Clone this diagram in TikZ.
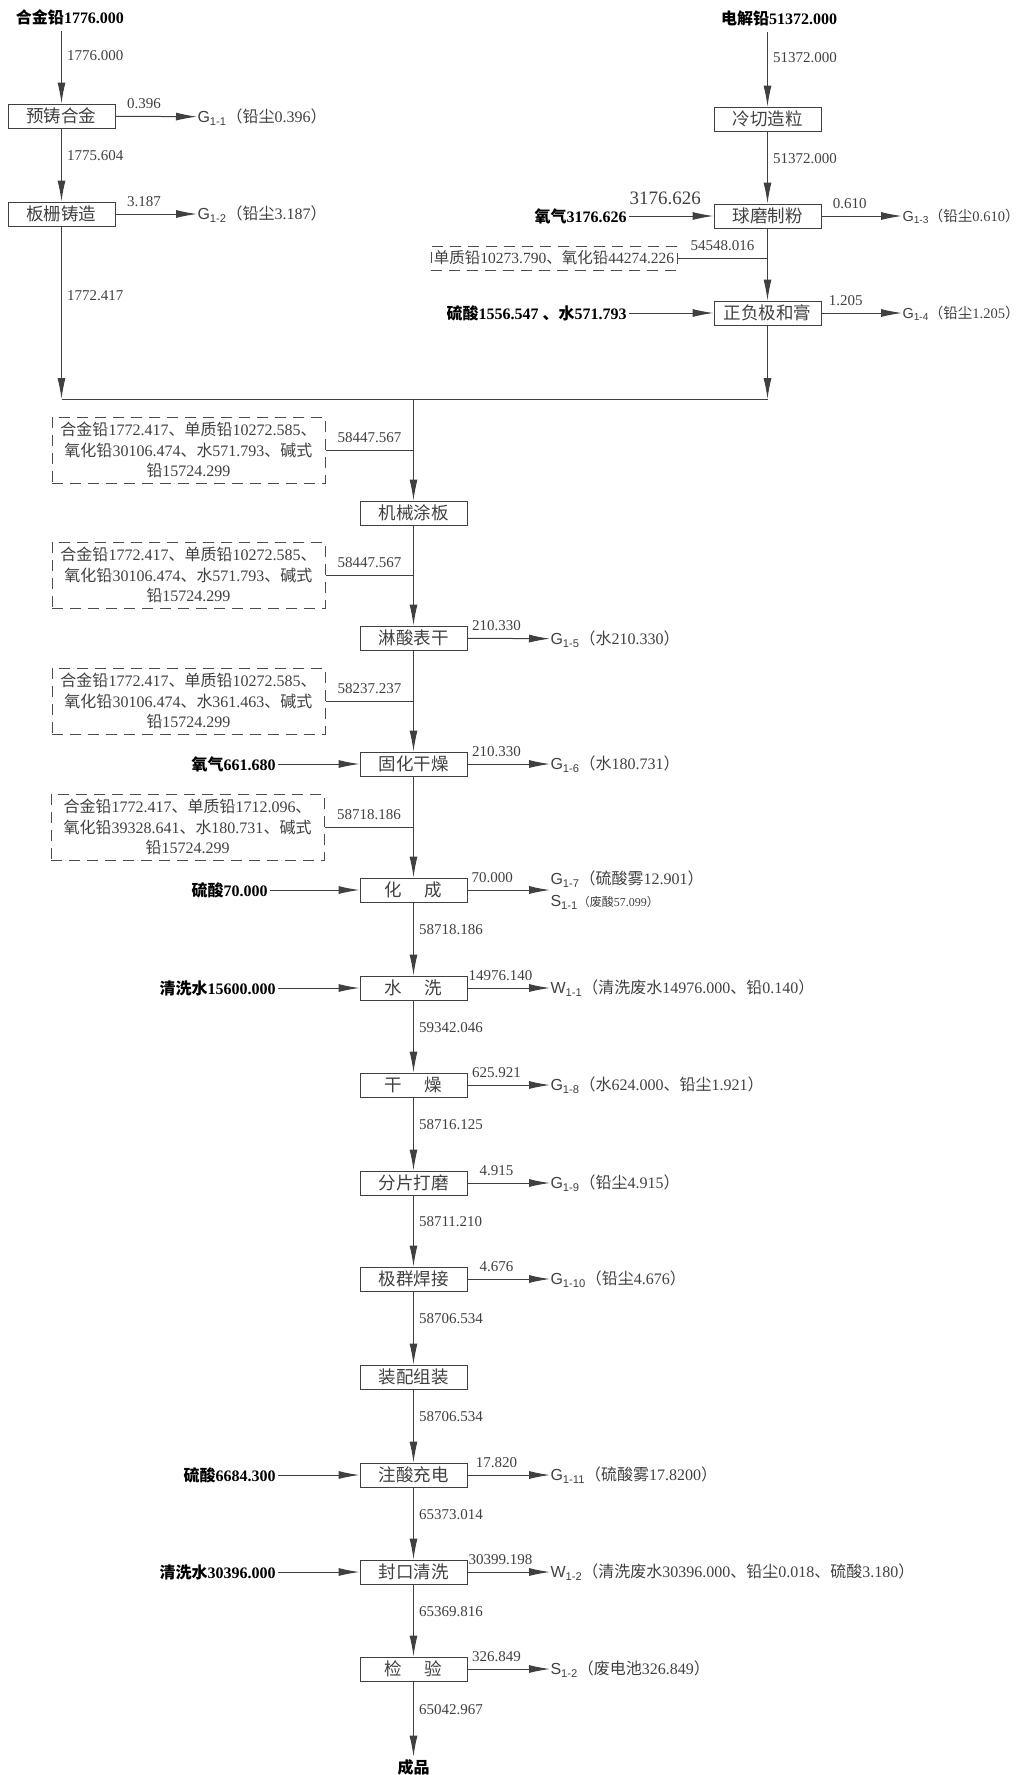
\documentclass[tikz,border=0pt]{standalone}
\usepackage{fontspec}
\setmainfont{Liberation Serif}
\newfontfamily\cjk{Noto Sans CJK SC}
\newfontfamily\arial{Liberation Sans}
\usepackage{tikz}
\usetikzlibrary{arrows.meta,positioning}
\newcommand\zh[1]{{\cjk #1}}
\tikzset{
    %Define standard arrow tip
    >={Latex[length=21pt,width=8pt]},
    %Define style for process boxes
    procbox/.style={
           rectangle,
           draw=black!75,
           minimum width=107pt,
           minimum height=24pt,
           inner sep=0pt,
           font=\cjk\fontsize{17.5}{17.5}\selectfont,
           text=black!75},
    %Define style for dashed material boxes
    matbox/.style={
           rectangle,
           draw=black!70,
           dash pattern=on 11pt off 7pt,
           text width=265pt,
           inner sep=4pt,
           minimum height=66pt,
           align=center,
           font=\fontsize{16}{20.5}\selectfont,
           text=black!75},
    matline/.style={
           rectangle,
           draw=black!70,
           dash pattern=on 11pt off 7pt,
           minimum width=246pt,
           minimum height=24pt,
           inner sep=2pt,
           font=\fontsize{15.5}{15.5}\selectfont,
           text=black!75},
    inlabel/.style={
           font=\bfseries\fontsize{16}{16}\selectfont,
           text=black,
           inner sep=2pt},
    outlabel/.style={
           font=\fontsize{16}{22}\selectfont,
           text=black!75,
           inner sep=0pt,
           anchor=west,
           align=left},
    flow/.style={
           font=\fontsize{15}{15}\selectfont,
           text=black!75,
           inner sep=2pt}
}

\begin{document}
\begin{tikzpicture}[x=1pt,y=-1pt,line width=1pt,black!75]
\useasboundingbox (0,0) rectangle (1027,1775);

 %sources
\node[inlabel] (t1) at (70,17) {\zh{合金铅}1776.000};
\node[inlabel] (t2) at (779,18) {\zh{电解铅}51372.000};

 %process boxes
\node[procbox] (p1) at (61.5,116) {预铸合金};
\node[procbox] (p2) at (61.5,214) {板栅铸造};
\node[procbox] (p3) at (767.5,119) {冷切造粒};
\node[procbox] (p4) at (767.5,216) {球磨制粉};
\node[procbox] (p5) at (767.5,313) {正负极和膏};
\node[procbox] (p6) at (413.5,513) {机械涂板};
\node[procbox] (p7) at (413.5,638) {淋酸表干};
\node[procbox] (p8) at (413.5,764) {固化干燥};
\node[procbox] (p9) at (413.5,890) {化\hspace{1.3em}成};
\node[procbox] (p10) at (413.5,988) {水\hspace{1.3em}洗};
\node[procbox] (p11) at (413.5,1085) {干\hspace{1.3em}燥};
\node[procbox] (p12) at (413.5,1183) {分片打磨};
\node[procbox] (p13) at (413.5,1279) {极群焊接};
\node[procbox] (p14) at (413.5,1377) {装配组装};
\node[procbox] (p15) at (413.5,1475) {注酸充电};
\node[procbox] (p16) at (413.5,1572) {封口清洗};
\node[procbox] (p17) at (413.5,1669) {检\hspace{1.3em}验};
\node[inlabel] (fin) at (413.5,1767) {\zh{成品}};

 %junction of both branches
\coordinate (j1) at (61.5,399);
\coordinate (j2) at (767.5,399);
\coordinate (j3) at (413.5,399);

 %inputs from the left
\node[inlabel, anchor=east] (i1) at (629,216) {\zh{氧气}3176.626};
\node[inlabel, anchor=east] (i2) at (629,313) {\zh{硫酸}1556.547 \zh{、水}571.793};
\node[inlabel, anchor=east] (i3) at (278,764) {\zh{氧气}661.680};
\node[inlabel, anchor=east] (i4) at (270,890) {\zh{硫酸}70.000};
\node[inlabel, anchor=east] (i5) at (278,988) {\zh{清洗水}15600.000};
\node[inlabel, anchor=east] (i6) at (278,1475) {\zh{硫酸}6684.300};
\node[inlabel, anchor=east] (i7) at (278,1572) {\zh{清洗水}30396.000};

 %intermediate materials
\node[matline] (d0) at (554,258) {\zh{单质铅}10273.790\zh{、氧化铅}44274.226};
\node[matbox] (d1) at (188.5,450) {\zh{合金铅}1772.417\zh{、单质铅}10272.585\zh{、}\\
  \zh{氧化铅}30106.474\zh{、水}571.793\zh{、碱式}\\ \zh{铅}15724.299};
\node[matbox] (d2) at (188.5,575) {\zh{合金铅}1772.417\zh{、单质铅}10272.585\zh{、}\\
  \zh{氧化铅}30106.474\zh{、水}571.793\zh{、碱式}\\ \zh{铅}15724.299};
\node[matbox] (d3) at (188.5,701) {\zh{合金铅}1772.417\zh{、单质铅}10272.585\zh{、}\\
  \zh{氧化铅}30106.474\zh{、水}361.463\zh{、碱式}\\ \zh{铅}15724.299};
\node[matbox] (d4) at (187.5,827) {\zh{合金铅}1772.417\zh{、单质铅}1712.096\zh{、}\\
  \zh{氧化铅}39328.641\zh{、水}180.731\zh{、碱式}\\ \zh{铅}15724.299};

 %outputs
\node[outlabel] (o1) at (197,117) {{\arial G\textsubscript{1-1}}\zh{（铅尘}0.396\zh{）}};
\node[outlabel] (o2) at (197,214) {{\arial G\textsubscript{1-2}}\zh{（铅尘}3.187\zh{）}};
\node[outlabel, font=\fontsize{14.5}{14.5}\selectfont] (o3) at (902,216) {{\arial G\textsubscript{1-3}}\zh{（铅尘}0.610\zh{）}};
\node[outlabel, font=\fontsize{14.5}{14.5}\selectfont] (o4) at (902,313) {{\arial G\textsubscript{1-4}}\zh{（铅尘}1.205\zh{）}};
\node[outlabel] (o5) at (550,639) {{\arial G\textsubscript{1-5}}\zh{（水}210.330\zh{）}};
\node[outlabel] (o6) at (550,764) {{\arial G\textsubscript{1-6}}\zh{（水}180.731\zh{）}};
\node[outlabel] (o7) at (550,890) {{\arial G\textsubscript{1-7}}\zh{（硫酸雾}12.901\zh{）}\\
  {\arial S\textsubscript{1-1}}{\fontsize{12}{12}\selectfont\zh{（废酸}57.099\zh{）}}};
\node[outlabel] (o8) at (550,988) {{\arial W\textsubscript{1-1}}\zh{（清洗废水}14976.000\zh{、铅}0.140\zh{）}};
\node[outlabel] (o9) at (550,1085) {{\arial G\textsubscript{1-8}}\zh{（水}624.000\zh{、铅尘}1.921\zh{）}};
\node[outlabel] (o10) at (550,1183) {{\arial G\textsubscript{1-9}}\zh{（铅尘}4.915\zh{）}};
\node[outlabel] (o11) at (550,1279) {{\arial G\textsubscript{1-10}}\zh{（铅尘}4.676\zh{）}};
\node[outlabel] (o12) at (550,1475) {{\arial G\textsubscript{1-11}}\zh{（硫酸雾}17.8200\zh{）}};
\node[outlabel] (o13) at (550,1572) {{\arial W\textsubscript{1-2}}\zh{（清洗废水}30396.000\zh{、铅尘}0.018\zh{、硫酸}3.180\zh{）}};
\node[outlabel] (o14) at (550,1669) {{\arial S\textsubscript{1-2}}\zh{（废电池}326.849\zh{）}};

 %left branch
\draw[->, shorten <=4pt] (t1.south -| p1) -- node[flow, right=3pt, pos=.37] {1776.000} (p1);
\draw[->] (p1) -- node[flow, right=3pt, pos=.37] {1775.604} (p2);
\draw[->] (p2) -- node[flow, right=3pt, pos=.4] {1772.417} (j1);

 %right branch
\draw[->, shorten <=4pt] (t2.south -| p3) -- node[flow, right=3pt, pos=.37] {51372.000} (p3);
\draw[->] (p3) -- node[flow, right=3pt, pos=.37] {51372.000} (p4);
\draw[->] (p4) -- (p5);
\draw (d0) -- node[flow, above=5pt] {54548.016} (d0 -| p4);
\draw[->] (p5) -- (j2);
\draw (j1) -- (j2);

 %main line
\draw[->] (j3) -- (p6);
\draw[->] (p6) -- (p7);
\draw[->] (p7) -- (p8);
\draw[->] (p8) -- (p9);
\draw[->] (p9) -- node[flow, right=3pt, pos=.37] {58718.186} (p10);
\draw[->] (p10) -- node[flow, right=3pt, pos=.37] {59342.046} (p11);
\draw[->] (p11) -- node[flow, right=3pt, pos=.37] {58716.125} (p12);
\draw[->] (p12) -- node[flow, right=3pt, pos=.37] {58711.210} (p13);
\draw[->] (p13) -- node[flow, right=3pt, pos=.37] {58706.534} (p14);
\draw[->] (p14) -- node[flow, right=3pt, pos=.37] {58706.534} (p15);
\draw[->] (p15) -- node[flow, right=3pt, pos=.37] {65373.014} (p16);
\draw[->] (p16) -- node[flow, right=3pt, pos=.37] {65369.816} (p17);
\draw[->] (p17) -- node[flow, right=3pt, pos=.37] {65042.967} (fin);

 %material boxes joining the main line
\draw (d1) -- node[flow, above=5pt] {58447.567} (d1 -| p6);
\draw (d2) -- node[flow, above=5pt] {58447.567} (d2 -| p6);
\draw (d3) -- node[flow, above=5pt] {58237.237} (d3 -| p6);
\draw (d4) -- node[flow, above=5pt] {58718.186} (d4 -| p6);

 %inputs
\draw[->] (i1) -- node[above=7pt, pos=.43, font=\fontsize{19}{19}\selectfont] {3176.626} (p4);
\draw[->] (i2) -- (p5);
\draw[->] (i3) -- (p8);
\draw[->] (i4) -- (p9);
\draw[->] (i5) -- (p10);
\draw[->] (i6) -- (p15);
\draw[->] (i7) -- (p16);

 %outputs
\draw[->] (p1) -- node[flow, above=5pt, pos=.35] {0.396} (o1);
\draw[->] (p2) -- node[flow, above=5pt, pos=.35] {3.187} (o2);
\draw[->] (p4) -- node[flow, above=5pt, pos=.35] {0.610} (o3);
\draw[->] (p5) -- node[flow, above=5pt, pos=.3] {1.205} (o4);
\draw[->] (p7) -- node[flow, above=5pt, pos=.35] {210.330} (o5);
\draw[->] (p8) -- node[flow, above=5pt, pos=.35] {210.330} (o6);
\draw[->] (p9) -- node[flow, above=5pt, pos=.3] {70.000} (o7);
\draw[->] (p10) -- node[flow, above=5pt, pos=.4] {14976.140} (o8);
\draw[->] (p11) -- node[flow, above=5pt, pos=.35] {625.921} (o9);
\draw[->] (p12) -- node[flow, above=5pt, pos=.35] {4.915} (o10);
\draw[->] (p13) -- node[flow, above=5pt, pos=.35] {4.676} (o11);
\draw[->] (p15) -- node[flow, above=5pt, pos=.35] {17.820} (o12);
\draw[->] (p16) -- node[flow, above=5pt, pos=.4] {30399.198} (o13);
\draw[->] (p17) -- node[flow, above=5pt, pos=.35] {326.849} (o14);
\end{tikzpicture}
\end{document}
